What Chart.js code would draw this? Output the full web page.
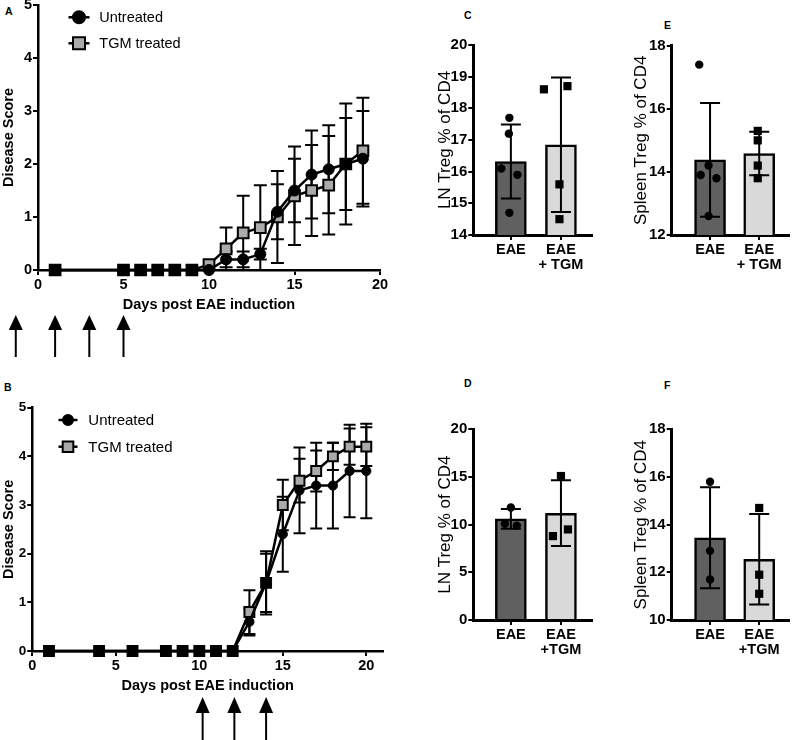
<!DOCTYPE html>
<html>
<head>
<meta charset="utf-8">
<script src="https://cdn.jsdelivr.net/npm/chart.js@4.4.0/dist/chart.umd.min.js"></script>
<style>
  body { margin: 0; width: 795px; height: 740px; position: relative; overflow: hidden; background: #fff;
         font-family: "Liberation Sans", Arial, sans-serif; }
  .panel { position: absolute; }
  .lab { position: absolute; font-weight: bold; font-size: 10.5px; line-height: 12px; }
</style>
</head>
<body>
<div class="lab" style="left:5px;top:5px">A</div>
<div class="lab" style="left:4px;top:381px">B</div>
<div class="lab" style="left:464px;top:9px">C</div>
<div class="lab" style="left:664px;top:19px">E</div>
<div class="lab" style="left:464px;top:377px">D</div>
<div class="lab" style="left:664px;top:379px">F</div>

<div class="panel" style="left:0;top:-10px"><canvas id="chartA" width="400" height="380"></canvas></div>
<div class="panel" style="left:0;top:380px"><canvas id="chartB" width="400" height="360"></canvas></div>
<div class="panel" style="left:420px;top:0"><canvas id="chartC" width="190" height="300"></canvas></div>
<div class="panel" style="left:610px;top:0"><canvas id="chartE" width="185" height="300"></canvas></div>
<div class="panel" style="left:420px;top:370px"><canvas id="chartD" width="190" height="330"></canvas></div>
<div class="panel" style="left:610px;top:370px"><canvas id="chartF" width="185" height="330"></canvas></div>

<script>
// ---- panel A: disease score, prophylactic dosing ----
var daysA = [1, 5, 6, 7, 8, 9, 10, 11, 12, 13, 14, 15, 16, 17, 18, 19];
var untreatedA = [0, 0, 0, 0, 0, 0, 0, 0.2, 0.2, 0.3, 1.1, 1.5, 1.8, 1.9, 2.0, 2.1];
var untreatedSdA = [0, 0, 0, 0, 0, 0, 0, 0.15, 0.15, 0.1, 0.52, 0.6, 0.83, 0.83, 0.87, 0.9];
var tgmA = [0, 0, 0, 0, 0, 0, 0.1, 0.4, 0.7, 0.8, 1.0, 1.4, 1.5, 1.6, 2.0, 2.25];
var tgmSdA = [0, 0, 0, 0, 0, 0, 0, 0.4, 0.7, 0.8, 0.87, 0.93, 0.86, 0.93, 1.14, 1.0];
var arrowDaysA = [-1.3, 1, 3, 5];

// ---- panel B: disease score, therapeutic dosing ----
var daysB = [1, 4, 6, 8, 9, 10, 11, 12, 13, 14, 15, 16, 17, 18, 19, 20];
var untreatedB = [0, 0, 0, 0, 0, 0, 0, 0, 0.6, 1.4, 2.4, 3.3, 3.4, 3.4, 3.7, 3.7];
var untreatedSdB = [0, 0, 0, 0, 0, 0, 0, 0, 0.28, 0.6, 0.77, 0.88, 0.88, 0.88, 0.95, 0.97];
var tgmB = [0, 0, 0, 0, 0, 0, 0, 0, 0.8, 1.4, 3.0, 3.5, 3.7, 4.0, 4.2, 4.2];
var tgmSdB = [0, 0, 0, 0, 0, 0, 0, 0, 0.45, 0.65, 0.52, 0.45, 0.42, 0.28, 0.37, 0.4];
var arrowDaysB = [10.2, 12.1, 14];

var dayTicks = [0, 5, 10, 15, 20];
var seriesNames = ['Untreated', 'TGM treated'];

// ---- panels C-F: Treg % of CD4 ----
var labelsCE = ['EAE', ['EAE', '+ TGM']];
var labelsDF = ['EAE', ['EAE', '+TGM']];

var meanC = [16.32, 16.85];
var sdC = [1.17, 2.12];
var eaeC = [17.7, 17.2, 16.1, 15.9, 14.7];
var tgmC = [18.6, 18.7, 15.6, 14.5];

var meanE = [14.38, 14.58];
var sdE = [1.8, 0.69];
var eaeE = [17.4, 13.9, 14.2, 13.8, 12.6];
var tgmE = [15.3, 15.0, 14.2, 13.8];

var meanD = [10.6, 11.2];
var sdD = [1.04, 3.45];
var eaeD = [11.8, 10.1, 9.9];
var tgmD = [15.1, 8.8, 9.5];

var meanF = [13.45, 12.55];
var sdF = [2.12, 1.9];
var eaeF = [15.8, 12.9, 11.7];
var tgmF = [14.7, 11.9, 11.1];

// horizontal scatter of the dots inside each bar (layout only)
var jitterC = [[-0.03, -0.04, -0.19, 0.13, -0.03], [-0.34, 0.13, -0.03, -0.03]];
var jitterE = [[-0.22, -0.19, -0.03, 0.13, -0.03], [-0.03, -0.03, -0.03, -0.03]];
var jitterD = [[0, -0.12, 0.12], [0, -0.16, 0.14]];
var jitterF = [[0, 0, 0], [0, 0, 0]];

Chart.defaults.font.family = '"Liberation Sans", Arial, sans-serif';
Chart.defaults.color = '#000';
Chart.defaults.animation = false;

// error bars (mean +/- SD) taken from dataset.sd
var errorBars = {
  id: 'errorBars',
  draw: function(chart, i, cap) {
    var ds = chart.data.datasets[i];
    if (!ds.sd) return;
    var ctx = chart.ctx, y = chart.scales.y, meta = chart.getDatasetMeta(i);
    ctx.save();
    ctx.strokeStyle = '#000';
    ctx.lineWidth = 2;
    meta.data.forEach(function(el, j) {
      var sd = ds.sd[j];
      if (!sd) return;
      var v = typeof ds.data[j] === 'object' ? ds.data[j].y : ds.data[j];
      var t = y.getPixelForValue(v + sd), b = y.getPixelForValue(v - sd);
      ctx.beginPath();
      ctx.moveTo(el.x, t); ctx.lineTo(el.x, b);
      ctx.moveTo(el.x - cap / 2, t); ctx.lineTo(el.x + cap / 2, t);
      ctx.moveTo(el.x - cap / 2, b); ctx.lineTo(el.x + cap / 2, b);
      ctx.stroke();
    });
    ctx.restore();
  },
  beforeDatasetsDraw: function(chart, args, opts) {
    if (opts.after) return;
    for (var i = 0; i < chart.data.datasets.length; i++) errorBars.draw(chart, i, opts.cap);
  },
  afterDatasetDraw: function(chart, args, opts) {
    if (opts.after) errorBars.draw(chart, args.index, opts.cap);
  }
};

// legend drawn inside the plot, line through marker like the original
var innerLegend = {
  id: 'innerLegend',
  afterDraw: function(chart, args, opts) {
    if (!opts.fills) return;
    var ctx = chart.ctx, a = chart.chartArea;
    ctx.save();
    chart.data.datasets.forEach(function(ds, i) {
      var x = a.left + opts.x, y = a.top + opts.y + i * opts.gap;
      ctx.strokeStyle = '#000';
      ctx.lineWidth = 2.5;
      ctx.beginPath(); ctx.moveTo(x - opts.half, y); ctx.lineTo(x + opts.half, y); ctx.stroke();
      ctx.fillStyle = opts.fills[i];
      ctx.lineWidth = 2;
      Chart.helpers.drawPoint(ctx, { pointStyle: ds.pointStyle, radius: opts.radius[i], borderWidth: 2 }, x, y);
      ctx.fillStyle = '#000';
      ctx.font = opts.size + 'px "Liberation Sans", Arial, sans-serif';
      ctx.textBaseline = 'middle';
      ctx.fillText(ds.label, x + opts.textDx, y + 1);
    });
    ctx.restore();
  }
};

// dosing arrows under the day axis
var arrows = {
  id: 'arrows',
  afterDraw: function(chart, args, opts) {
    if (!opts.days) return;
    var ctx = chart.ctx, x = chart.scales.x, base = chart.chartArea.bottom;
    ctx.save();
    ctx.fillStyle = '#000';
    ctx.strokeStyle = '#000';
    ctx.lineWidth = 2;
    opts.days.forEach(function(d) {
      var px = x.getPixelForValue(d);
      var tip = base + opts.tip, neck = tip + opts.head, end = base + opts.end;
      ctx.beginPath(); ctx.moveTo(px, neck - 1); ctx.lineTo(px, end); ctx.stroke();
      ctx.beginPath(); ctx.moveTo(px, tip); ctx.lineTo(px - 7, neck); ctx.lineTo(px + 7, neck);
      ctx.closePath(); ctx.fill();
    });
    ctx.restore();
  }
};

function axisStyle(tickLen, borderW) {
  return {
    offset: false,
    grid: { offset: false, drawOnChartArea: false, drawTicks: true, tickLength: tickLen, color: '#000', lineWidth: 2 },
    border: { color: '#000', width: borderW }
  };
}

function lineChart(id, days, untreated, untreatedSd, tgm, tgmSd, cfg) {
  var toXY = function(vals) { return days.map(function(d, i) { return { x: d, y: vals[i] }; }); };
  return new Chart(document.getElementById(id), {
    type: 'line',
    data: {
      datasets: [
        { label: seriesNames[0], data: toXY(untreated), sd: untreatedSd, borderColor: '#000', borderWidth: 2.5,
          pointStyle: 'circle', pointRadius: cfg.circleR, pointBackgroundColor: '#000', pointBorderColor: '#000',
          pointBorderWidth: 1, clip: false },
        { label: seriesNames[1], data: toXY(tgm), sd: tgmSd, borderColor: '#000', borderWidth: 2.5,
          pointStyle: 'rect', pointRadius: cfg.rectR, pointBorderColor: '#000', pointBorderWidth: 2,
          pointBackgroundColor: function(c) { return tgm[c.dataIndex] === untreated[c.dataIndex] ? '#000' : '#aaaaaa'; },
          clip: false }
      ]
    },
    options: {
      responsive: false,
      layout: { padding: cfg.pad },
      plugins: {
        legend: { display: false },
        tooltip: { enabled: false },
        errorBars: { cap: cfg.cap },
        innerLegend: cfg.legend,
        arrows: cfg.arrows
      },
      scales: {
        x: Object.assign({
          type: 'linear', min: 0, max: cfg.xMax,
          afterBuildTicks: function(s) { s.ticks = dayTicks.map(function(v) { return { value: v }; }); },
          afterFit: function(s) { s.height = 44; },
          ticks: { font: { size: 14.5, weight: 'bold' }, padding: 1, maxRotation: 0, autoSkip: false },
          title: { display: true, text: 'Days post EAE induction', font: { size: 14.5, weight: 'bold' }, padding: 0 }
        }, axisStyle(5, 2.5)),
        y: Object.assign({
          min: 0, max: 5,
          afterFit: function(s) { s.width = cfg.yWidth; },
          ticks: { stepSize: 1, font: { size: cfg.yTickSize, weight: 'bold' }, padding: 1 },
          title: { display: true, text: 'Disease Score', font: { size: 14.5, weight: 'bold' }, padding: 0 }
        }, axisStyle(5, 2.5))
      }
    },
    plugins: [errorBars, innerLegend, arrows]
  });
}

function barChart(id, means, sds, eae, tgm, jitter, labels, yTitle, yCfg, box) {
  var pts = function(vals, g) { return vals.map(function(v, i) { return { x: g + jitter[g][i], y: v }; }); };
  return new Chart(document.getElementById(id), {
    type: 'bar',
    data: {
      datasets: [
        { type: 'scatter', data: pts(eae, 0), pointStyle: 'circle', pointRadius: 4.2,
          backgroundColor: '#000', borderColor: '#000', borderWidth: 0, clip: false },
        { type: 'scatter', data: pts(tgm, 1), pointStyle: 'rect', pointRadius: 5.8,
          backgroundColor: '#000', borderColor: '#000', borderWidth: 0, clip: false },
        { type: 'bar', data: means.map(function(m, g) { return { x: g, y: m }; }), sd: sds,
          backgroundColor: ['#606060', '#d9d9d9'], borderColor: '#000', borderWidth: 2.5,
          barThickness: 31, borderSkipped: 'start' }
      ]
    },
    options: {
      responsive: false,
      layout: { padding: { top: box.top, left: 0, right: box.right, bottom: 0 } },
      plugins: {
        legend: { display: false },
        tooltip: { enabled: false },
        errorBars: { cap: 20, after: true }
      },
      scales: {
        x: Object.assign({
          type: 'linear', min: box.xMin, max: box.xMax,
          afterBuildTicks: function(s) { s.ticks = [{ value: 0 }, { value: 1 }]; },
          afterFit: function(s) { s.height = box.xHeight; },
          ticks: { callback: function(v) { return labels[v]; }, font: { size: 14.5, weight: 'bold', lineHeight: 1.08 },
                   padding: 2, maxRotation: 0, autoSkip: false }
        }, axisStyle(5, 3)),
        y: Object.assign({
          min: yCfg.min, max: yCfg.max,
          afterFit: function(s) { s.width = box.yWidth; },
          ticks: { stepSize: yCfg.step, font: { size: 15, weight: 'bold' }, padding: 1 },
          title: { display: true, text: yTitle, font: { size: 17 }, padding: { top: box.titlePad } }
        }, axisStyle(5, 3))
      }
    },
    plugins: [errorBars]
  });
}

lineChart('chartA', daysA, untreatedA, untreatedSdA, tgmA, tgmSdA, {
  pad: { top: 15, left: 0, right: 20, bottom: 56 }, xMax: 20, yWidth: 38, yTickSize: 14.5,
  circleR: 5.5, rectR: 7.6, cap: 13,
  legend: { x: 41, y: 12.3, gap: 26, half: 10.5, textDx: 20.3, size: 14.5, radius: [6, 8.5], fills: ['#000', '#aaaaaa'] },
  arrows: { days: arrowDaysA, tip: 45, head: 15, end: 87 }
});

lineChart('chartB', daysB, untreatedB, untreatedSdB, tgmB, tgmSdB, {
  pad: { top: 27.7, left: 0, right: 17, bottom: 45 }, xMax: 21, yWidth: 32.3, yTickSize: 13.5,
  circleR: 4.6, rectR: 7, cap: 12,
  legend: { x: 35.7, y: 12.3, gap: 26.7, half: 9.5, textDx: 20.3, size: 15, radius: [5, 7.5], fills: ['#000', '#aaaaaa'] },
  arrows: { days: arrowDaysB, tip: 46, head: 16, end: 89 }
});

var boxCD = { xMin: -0.75, xMax: 1.62, yWidth: 53.3, right: 18, titlePad: 14.8 };
var boxEF = { xMin: -0.78, xMax: 1.61, yWidth: 61.7, right: 3.3, titlePad: 21.5 };

barChart('chartC', meanC, sdC, eaeC, tgmC, jitterC, labelsCE, 'LN Treg % of CD4', { min: 14, max: 20, step: 1 },
  Object.assign({ top: 45, xHeight: 65 }, boxCD));
barChart('chartE', meanE, sdE, eaeE, tgmE, jitterE, labelsCE, 'Spleen Treg % of CD4', { min: 12, max: 18, step: 2 },
  Object.assign({ top: 45.7, xHeight: 65 }, boxEF));
barChart('chartD', meanD, sdD, eaeD, tgmD, jitterD, labelsDF, 'LN Treg % of CD4', { min: 0, max: 20, step: 5 },
  Object.assign({ top: 59.3, xHeight: 80 }, boxCD));
barChart('chartF', meanF, sdF, eaeF, tgmF, jitterF, labelsDF, 'Spleen Treg % of CD4', { min: 10, max: 18, step: 2 },
  Object.assign({ top: 59.3, xHeight: 80 }, boxEF));
</script>
</body>
</html>
